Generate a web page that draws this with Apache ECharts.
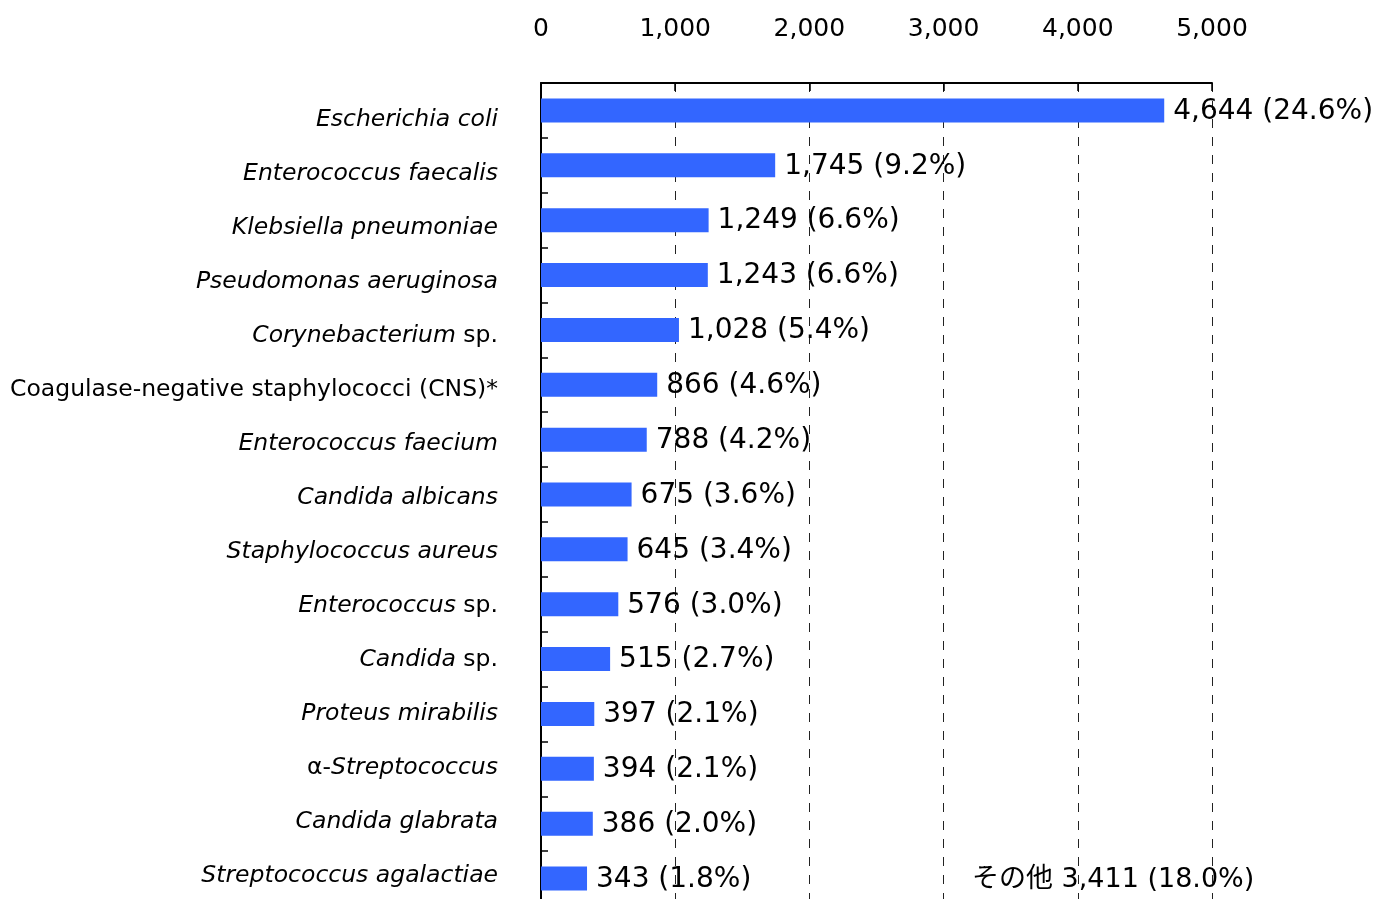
<!DOCTYPE html>
<html>
<head>
<meta charset="utf-8">
<script src="https://cdn.jsdelivr.net/npm/echarts@6/dist/echarts.min.js"></script>
<style>
html,body{margin:0;padding:0;background:#fff;overflow:hidden;}
#chart{width:1383px;height:920px;}
</style>
</head>
<body>
<div id="chart"></div>
<script>
// Category labels: parts as [text, italic?]
const categories = [
  [["Escherichia coli", true]],
  [["Enterococcus faecalis", true]],
  [["Klebsiella pneumoniae", true]],
  [["Pseudomonas aeruginosa", true]],
  [["Corynebacterium", true], [" sp.", false]],
  [["Coagulase-negative staphylococci (CNS)*", false]],
  [["Enterococcus faecium", true]],
  [["Candida albicans", true]],
  [["Staphylococcus aureus", true]],
  [["Enterococcus", true], [" sp.", false]],
  [["Candida", true], [" sp.", false]],
  [["Proteus mirabilis", true]],
  [["α-", false], ["Streptococcus", true]],
  [["Candida glabrata", true]],
  [["Streptococcus agalactiae", true]]
];
const values = [4644, 1745, 1249, 1243, 1028, 866, 788, 675, 645, 576, 515, 397, 394, 386, 343];
const percents = ["24.6", "9.2", "6.6", "6.6", "5.4", "4.6", "4.2", "3.6", "3.4", "3.0", "2.7", "2.1", "2.1", "2.0", "1.8"];
const xTicks = [0, 1000, 2000, 3000, 4000, 5000];
const otherName = "その他";
const otherValue = 3411;
const otherPercent = "18.0";

const FONT = "'DejaVu Sans', 'Noto Sans CJK JP', sans-serif";
const fmt = n => n.toLocaleString('en-US');
const catKeys = categories.map((_, i) => 'c' + i);

function catLabel(idx) {
  return categories[idx].map(p => '{' + (p[1] ? 'i' : 'n') + '|' + p[0] + '}').join('');
}

const chart = echarts.init(document.getElementById('chart'));
chart.setOption({
  animation: false,
  backgroundColor: '#ffffff',
  textStyle: { fontFamily: FONT },
  grid: [
    { left: 541, right: 171, top: 83, height: 823, containLabel: false },
    { left: 541, right: 171, top: 93, height: 810, containLabel: false }
  ],
  xAxis: [{
    type: 'value',
    gridIndex: 0,
    position: 'top',
    min: xTicks[0],
    max: xTicks[xTicks.length - 1],
    interval: xTicks[1] - xTicks[0],
    axisLine: { show: true, lineStyle: { color: '#000', width: 2 } },
    axisTick: { show: true, inside: true, length: 8, lineStyle: { color: '#000', width: 1.5 } },
    axisLabel: { color: '#000', fontSize: 25, fontFamily: FONT, margin: 41, formatter: v => fmt(v) },
    splitLine: { show: true, lineStyle: { color: '#222', width: 1, type: [9, 9] } }
  }, {
    type: 'value',
    gridIndex: 1,
    min: 0, max: 1,
    show: false
  }],
  yAxis: [{
    type: 'category',
    gridIndex: 0,
    inverse: true,
    data: catKeys,
    axisLine: { show: true, lineStyle: { color: '#000', width: 2 } },
    axisTick: { show: true, inside: true, length: 7, lineStyle: { color: '#000', width: 1.5 } },
    axisLabel: { show: false },
    splitLine: { show: false }
  }, {
    type: 'category',
    gridIndex: 1,
    inverse: true,
    data: catKeys,
    axisLine: { show: false },
    axisTick: { show: false },
    splitLine: { show: false },
    axisLabel: {
      margin: 43,
      formatter: (v) => catLabel(catKeys.indexOf(v)),
      rich: {
        i: { fontStyle: 'italic', fontSize: 23.5, color: '#000', fontFamily: FONT },
        n: { fontStyle: 'normal', fontSize: 23.5, color: '#000', fontFamily: FONT }
      }
    }
  }],
  series: [{
    type: 'bar',
    xAxisIndex: 0,
    yAxisIndex: 0,
    data: values,
    barWidth: 24,
    itemStyle: { color: '#3366ff' },
    label: {
      show: true,
      position: 'right',
      distance: 9,
      offset: [0, 1],
      color: '#000',
      fontSize: 28,
      fontFamily: FONT,
      formatter: p => fmt(values[p.dataIndex]) + ' (' + percents[p.dataIndex] + '%)'
    }
  }],
  graphic: [{
    type: 'text',
    left: 972,
    top: 866,
    style: {
      text: otherName + ' ' + fmt(otherValue) + ' (' + otherPercent + '%)',
      fontSize: 27,
      fontFamily: FONT,
      fill: '#000'
    }
  }]
});
</script>
</body>
</html>
